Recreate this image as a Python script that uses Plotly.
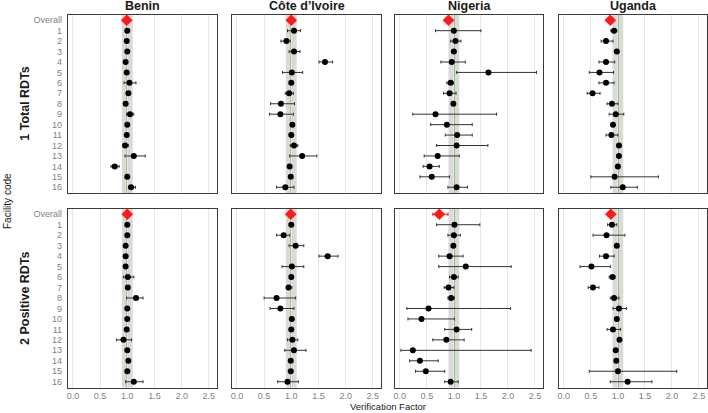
import plotly.graph_objects as go

countries = ["Benin", "Côte d’Ivoire", "Nigeria", "Uganda"]
measures = ["1 Total RDTs", "2 Positive RDTs"]
facilities = ["Overall"] + [str(i) for i in range(1, 17)]

# ---- Benin ----
benin_total_est = [0.99, 1.00, 0.99, 1.00, 0.97, 0.99, 1.04, 1.02, 0.97, 1.05, 1.00, 0.99, 0.96, 1.12, 0.77, 1.00, 1.07]
benin_total_lo  = [0.97, 0.98, 0.97, 0.98, 0.94, 0.97, 0.94, 1.00, 0.94, 0.99, 0.98, 0.97, 0.92, 0.96, 0.70, 0.98, 1.02]
benin_total_hi  = [1.01, 1.02, 1.01, 1.02, 1.00, 1.01, 1.16, 1.04, 1.00, 1.12, 1.02, 1.01, 1.02, 1.33, 0.85, 1.02, 1.15]
benin_pos_est = [1.00, 1.00, 1.00, 0.97, 0.97, 0.97, 1.01, 1.01, 1.16, 1.00, 1.00, 0.99, 0.93, 1.00, 1.02, 1.00, 1.12]
benin_pos_lo  = [0.98, 0.98, 0.98, 0.95, 0.95, 0.95, 0.93, 0.99, 0.99, 0.98, 0.98, 0.96, 0.80, 0.98, 1.00, 0.98, 0.97]
benin_pos_hi  = [1.02, 1.02, 1.02, 0.99, 0.99, 0.99, 1.12, 1.03, 1.29, 1.02, 1.02, 1.02, 1.08, 1.02, 1.04, 1.02, 1.29]

# ---- Côte d'Ivoire ----
civ_total_est = [1.00, 1.05, 0.91, 1.05, 1.62, 1.01, 1.00, 0.96, 0.81, 0.80, 1.02, 1.00, 1.05, 1.20, 0.97, 0.99, 0.89]
civ_total_lo  = [0.98, 0.93, 0.81, 0.96, 1.51, 0.84, 0.98, 0.89, 0.62, 0.60, 1.00, 0.98, 0.98, 0.97, 0.95, 0.97, 0.73]
civ_total_hi  = [1.02, 1.17, 0.98, 1.16, 1.76, 1.21, 1.02, 1.04, 1.06, 1.04, 1.04, 1.02, 1.12, 1.47, 0.99, 1.01, 1.05]
civ_pos_est = [0.99, 1.00, 0.86, 1.08, 1.67, 1.01, 1.00, 0.95, 0.73, 0.80, 1.01, 1.00, 1.02, 1.05, 0.99, 0.99, 0.93]
civ_pos_lo  = [0.97, 0.98, 0.73, 0.96, 1.51, 0.83, 0.98, 0.91, 0.50, 0.61, 0.99, 0.98, 0.93, 0.88, 0.97, 0.97, 0.75]
civ_pos_hi  = [1.01, 1.02, 0.97, 1.23, 1.86, 1.23, 1.02, 1.01, 1.08, 1.05, 1.03, 1.02, 1.12, 1.27, 1.01, 1.01, 1.13]

# ---- Nigeria ----
nga_total_est = [0.90, 1.00, 1.03, 1.00, 0.96, 1.64, 0.94, 0.92, 0.99, 0.66, 0.87, 1.06, 1.05, 0.70, 0.55, 0.59, 1.05]
nga_total_lo  = [0.83, 0.66, 0.94, 0.98, 0.76, 1.05, 0.87, 0.81, 0.97, 0.24, 0.57, 0.84, 0.68, 0.45, 0.43, 0.37, 0.89]
nga_total_hi  = [0.98, 1.50, 1.13, 1.02, 1.21, 2.53, 0.99, 1.04, 1.01, 1.79, 1.34, 1.34, 1.63, 1.10, 0.73, 0.92, 1.25]
nga_pos_est = [0.73, 1.01, 1.00, 0.99, 0.92, 1.22, 1.00, 0.90, 0.95, 0.53, 0.40, 1.05, 0.86, 0.24, 0.37, 0.48, 0.94]
nga_pos_lo  = [0.61, 0.68, 0.89, 0.97, 0.72, 0.72, 0.92, 0.82, 0.89, 0.13, 0.15, 0.83, 0.61, 0.02, 0.18, 0.29, 0.83]
nga_pos_hi  = [0.89, 1.48, 1.12, 1.01, 1.17, 2.06, 1.08, 1.00, 1.01, 2.05, 1.01, 1.33, 1.19, 2.43, 0.71, 0.83, 1.08]

# ---- Uganda ----
uga_total_est = [0.86, 0.93, 0.78, 0.98, 0.78, 0.66, 0.78, 0.53, 0.89, 0.96, 0.91, 0.88, 1.02, 1.02, 1.00, 0.94, 1.09]
uga_total_lo  = [0.84, 0.87, 0.69, 0.96, 0.65, 0.47, 0.65, 0.43, 0.80, 0.84, 0.89, 0.78, 1.00, 1.00, 0.98, 0.50, 0.87]
uga_total_hi  = [0.88, 0.98, 0.91, 1.00, 0.94, 0.92, 0.93, 0.67, 1.00, 1.11, 0.93, 1.00, 1.04, 1.04, 1.02, 1.75, 1.36]
uga_pos_est = [0.87, 0.89, 0.79, 0.98, 0.78, 0.51, 0.90, 0.54, 0.93, 1.02, 0.98, 0.91, 1.03, 0.96, 0.97, 1.00, 1.18]
uga_pos_lo  = [0.85, 0.81, 0.54, 0.96, 0.66, 0.30, 0.84, 0.45, 0.86, 0.91, 0.96, 0.80, 1.01, 0.94, 0.95, 0.47, 0.86]
uga_pos_hi  = [0.89, 0.98, 1.13, 1.00, 0.93, 0.86, 0.95, 0.65, 1.02, 1.16, 1.00, 1.05, 1.05, 0.98, 0.99, 2.09, 1.63]

data = {
    ("Benin", 0): (benin_total_est, benin_total_lo, benin_total_hi),
    ("Benin", 1): (benin_pos_est, benin_pos_lo, benin_pos_hi),
    ("Côte d’Ivoire", 0): (civ_total_est, civ_total_lo, civ_total_hi),
    ("Côte d’Ivoire", 1): (civ_pos_est, civ_pos_lo, civ_pos_hi),
    ("Nigeria", 0): (nga_total_est, nga_total_lo, nga_total_hi),
    ("Nigeria", 1): (nga_pos_est, nga_pos_lo, nga_pos_hi),
    ("Uganda", 0): (uga_total_est, uga_total_lo, uga_total_hi),
    ("Uganda", 1): (uga_pos_est, uga_pos_lo, uga_pos_hi),
}

x_ticks = [0.0, 0.5, 1.0, 1.5, 2.0, 2.5]
band = (0.9, 1.1)
ref_line = 1.0

W, H = 708, 413
col_px = [(68, 217), (232, 381), (395, 543), (559, 707)]
row_px = [(14.5, 193), (208.5, 387.5)]

FONT = "Liberation Sans, Arial, sans-serif"
fig = go.Figure()
layout = dict(
    width=W, height=H, margin=dict(l=0, r=0, t=0, b=0),
    paper_bgcolor="white", plot_bgcolor="white", showlegend=False,
    font=dict(family=FONT, size=9, color="#7f7f7f"),
)
shapes = []
annotations = []

idx = 0
for r in range(2):
    for c, country in enumerate(countries):
        idx += 1
        xa = "x" if idx == 1 else f"x{idx}"
        ya = "y" if idx == 1 else f"y{idx}"
        xkey = "xaxis" if idx == 1 else f"xaxis{idx}"
        ykey = "yaxis" if idx == 1 else f"yaxis{idx}"
        x0, x1 = col_px[c]
        y0, y1 = row_px[r]
        layout[xkey] = dict(
            domain=[x0 / W, x1 / W], anchor=ya, range=[-0.09, 2.65],
            tickmode="array", tickvals=x_ticks, tickformat=".1f", showticklabels=(r == 1),
            showgrid=True, gridcolor="#e8e8e8", gridwidth=1, zeroline=False,
            showline=True, mirror=True, linecolor="#3a3a3a", linewidth=1.2,
            ticks="", ticklen=0,
            tickfont=dict(size=9, color="#7f7f7f"),
        )
        layout[ykey] = dict(
            domain=[1 - y1 / H, 1 - y0 / H], anchor=xa, type="category",
            categoryorder="array", categoryarray=facilities,
            tickmode="array", tickvals=facilities, ticktext=facilities,
            range=[16.55, -0.55], showticklabels=(c == 0), showgrid=False,
            zeroline=False, showline=True, mirror=True, linecolor="#3a3a3a",
            linewidth=1.2, ticks="outside", ticklen=3, tickcolor="rgba(0,0,0,0)",
            tickfont=dict(size=9, color="#7f7f7f"),
        )
        shapes.append(dict(type="rect", xref=xa, yref=f"{ya} domain",
                           x0=band[0], x1=band[1], y0=0, y1=1,
                           fillcolor="#dadada", line=dict(width=0), layer="below"))
        shapes.append(dict(type="line", xref=xa, yref=f"{ya} domain",
                           x0=ref_line, x1=ref_line, y0=0, y1=1,
                           line=dict(color="#74b84e", width=1.6), layer="below"))
        est, lo, hi = data[(country, r)]
        plus = [h - e for h, e in zip(hi, est)]
        minus = [e - l for e, l in zip(est, lo)]
        # facilities
        fig.add_trace(go.Scatter(
            x=est[1:], y=facilities[1:], xaxis=xa, yaxis=ya, mode="markers",
            marker=dict(color="black", size=6),
            error_x=dict(type="data", array=plus[1:], arrayminus=minus[1:],
                         color="#333333", thickness=1, width=1.5),
            hoverinfo="x+y"))
        # overall
        fig.add_trace(go.Scatter(
            x=est[:1], y=facilities[:1], xaxis=xa, yaxis=ya, mode="markers",
            marker=dict(color="#ff1a1a", size=9, symbol="diamond"),
            error_x=dict(type="data", array=plus[:1], arrayminus=minus[:1],
                         color="#ff1a1a", thickness=1.2, width=1.5),
            hoverinfo="x+y"))

for c, country in enumerate(countries):
    x0, x1 = col_px[c]
    annotations.append(dict(text=f"<b>{country}</b>", x=(x0 + x1) / 2 / W, y=1 - 6 / H,
                            xref="paper", yref="paper", showarrow=False,
                            font=dict(size=12.5, color="#1a1a1a", family=FONT),
                            xanchor="center", yanchor="middle"))
for r, m in enumerate(measures):
    y0, y1 = row_px[r]
    annotations.append(dict(text=f"<b>{m}</b>", x=25 / W, y=1 - (y0 + y1) / 2 / H,
                            xref="paper", yref="paper", showarrow=False, textangle=-90,
                            font=dict(size=12.5, color="#1a1a1a", family=FONT),
                            xanchor="center", yanchor="middle"))
annotations.append(dict(text="Facility code", x=7 / W, y=1 - 201 / H, xref="paper", yref="paper",
                        showarrow=False, textangle=-90, xanchor="center", yanchor="middle",
                        font=dict(size=10, color="#1a1a1a", family=FONT)))
annotations.append(dict(text="Verification Factor", x=388 / W, y=0, xref="paper",
                        yref="paper", showarrow=False, xanchor="center", yanchor="bottom",
                        borderpad=0, font=dict(size=9.5, color="#1a1a1a", family=FONT)))

layout["shapes"] = shapes
layout["annotations"] = annotations
fig.update_layout(**layout)
fig.write_html("out.html")
